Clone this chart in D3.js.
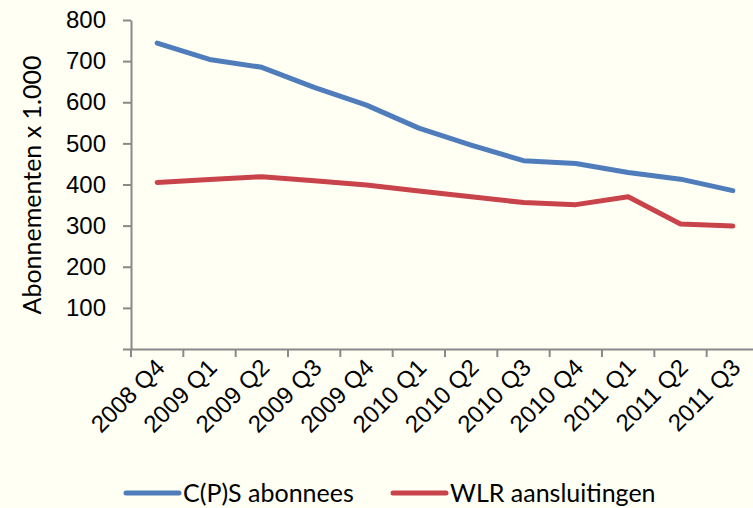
<!DOCTYPE html>
<html>
<head>
<meta charset="utf-8">
<script src="https://cdn.jsdelivr.net/npm/d3@7"></script>
<style>
  body { margin: 0; background: #fffff4; }
  svg { display: block; font-family: Lato, "Open Sans", sans-serif; }
  .axis path, .axis line { stroke: #898989; stroke-width: 2; }
  .axis text { fill: #000; font-size: 24px; }
</style>
</head>
<body>
<div id="chart"></div>
<script>
const categories = ["2008 Q4", "2009 Q1", "2009 Q2", "2009 Q3", "2009 Q4", "2010 Q1",
  "2010 Q2", "2010 Q3", "2010 Q4", "2011 Q1", "2011 Q2", "2011 Q3"];
const cpsValues = [744, 704, 685, 636, 593, 537, 496, 458, 451, 429, 413, 385];
const wlrValues = [405, 412, 419, 409, 399, 384, 370, 356, 351, 370, 304, 299];
const yTicks = [0, 100, 200, 300, 400, 500, 600, 700, 800];
const seriesNames = ["C(P)S abonnees", "WLR aansluitingen"];
const seriesColors = ["#4f7dbc", "#c9434a"];

const width = 753, height = 508;

let svg = d3.select('#chart')
  .append('svg')
  .attr('width', width)
  .attr('height', height);

var x = d3.scaleBand()
  .domain(categories)
  .range([131, 759]);

var y = d3.scaleLinear()
  .domain([0, 800])
  .range([349, 20]);

// y axis, 0 has a tick but no label
svg.append('g')
  .attr('class', 'axis')
  .attr('transform', 'translate(131,0)')
  .call(d3.axisLeft(y)
    .tickValues(yTicks)
    .tickFormat(d => d === 0 ? '' : d)
    .tickSize(8)
    .tickSizeOuter(0)
    .tickPadding(17));

// x axis: labels at the band centres, tick marks on the band edges
let xAxis = svg.append('g')
  .attr('class', 'axis')
  .attr('transform', 'translate(0,349)')
  .call(d3.axisBottom(x).tickSize(0).tickSizeOuter(0).tickPadding(0));

xAxis.selectAll('.tick text')
  .attr('text-anchor', 'end')
  .attr('dy', 0)
  .attr('transform', 'translate(9,20) rotate(-45)');

xAxis.selectAll('line.edge')
  .data(categories.map(c => x(c)).concat([x.range()[1]]))
  .enter().append('line')
  .attr('class', 'edge')
  .attr('x1', d => d)
  .attr('x2', d => d)
  .attr('y1', 0)
  .attr('y2', 8);

var line = d3.line()
  .x((d, i) => x(categories[i]) + x.bandwidth() / 2)
  .y(d => y(d));

[cpsValues, wlrValues].forEach(function (values, k) {
  svg.append('path')
    .datum(values)
    .attr('fill', 'none')
    .attr('stroke', seriesColors[k])
    .attr('stroke-width', 5)
    .attr('stroke-linecap', 'round')
    .attr('stroke-linejoin', 'round')
    .attr('d', line);
});

// y axis title
svg.append('text')
  .attr('transform', 'translate(32,185) rotate(-90)')
  .attr('text-anchor', 'middle')
  .attr('dy', '0.35em')
  .style('font-size', '25px')
  .text('Abonnementen x 1.000');

// legend
var legendX = [126, 393];
var legend = svg.selectAll('g.legend')
  .data(seriesNames)
  .enter().append('g')
  .attr('class', 'legend')
  .attr('transform', (d, i) => 'translate(' + legendX[i] + ',493)');

legend.append('line')
  .attr('x1', 0)
  .attr('x2', 53)
  .attr('stroke', (d, i) => seriesColors[i])
  .attr('stroke-width', 5)
  .attr('stroke-linecap', 'round');

legend.append('text')
  .attr('x', 57)
  .attr('dy', '0.35em')
  .style('font-size', '25px')
  .text(d => d);
</script>
</body>
</html>
